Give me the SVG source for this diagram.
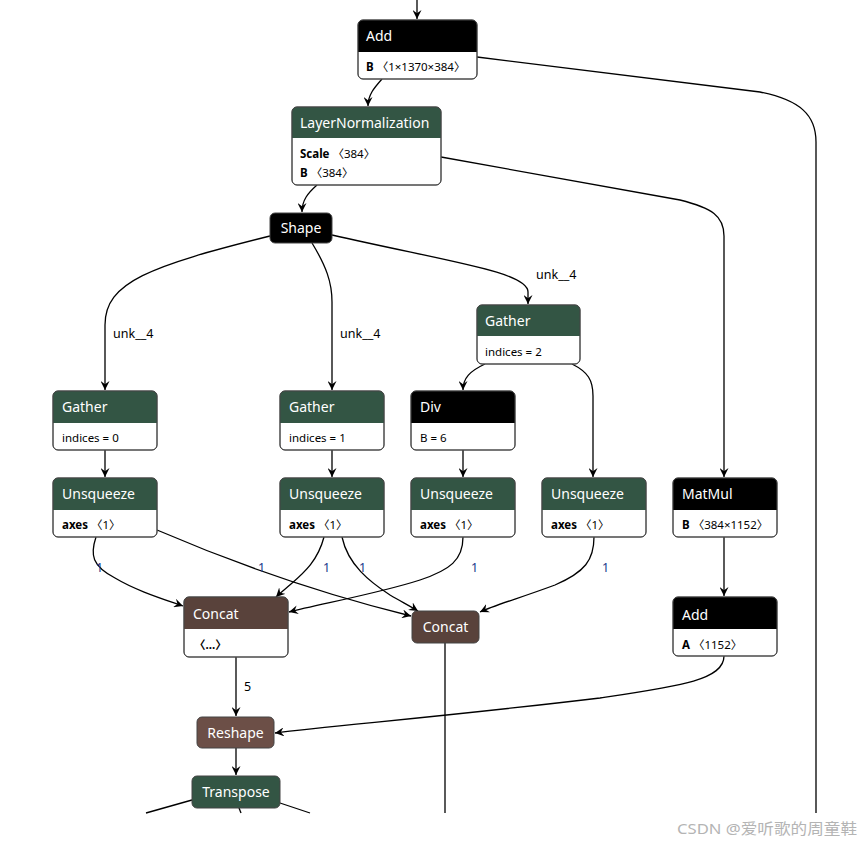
<svg xmlns="http://www.w3.org/2000/svg" width="862" height="844" viewBox="0 0 862 844">
<style>
.box{fill:#fff;stroke:#555;stroke-width:1}
.frame{fill:none;stroke:#444;stroke-width:1}
.hd{font-family:"Noto Sans","Open Sans","DejaVu Sans",sans-serif;font-size:14px;fill:#fff}
.bd{font-family:"Noto Sans","Noto Sans CJK SC",sans-serif;font-size:11.5px;fill:#000}
.bd .k{font-weight:bold}
.e{fill:none;stroke:#000;stroke-width:1.3}
.lbl{font-family:"Noto Sans","Open Sans",sans-serif;font-size:12.5px;fill:#000}
.lb1{font-family:"Noto Sans","Open Sans",sans-serif;font-size:12.5px;fill:#1a3a8a}
.green{fill:#335544}.black{fill:#000}.tensor{fill:#59423b}.shp{fill:#6c4f47}
</style>
<defs>
<marker id="arr" viewBox="0 0 10 10" refX="10" refY="5" markerWidth="9" markerHeight="9" markerUnits="userSpaceOnUse" orient="auto">
<path d="M0,0 L10,5 L0,10 L3.5,5 z" fill="#000"/>
</marker>
</defs>
<g id="connectors">
<path class="e" d="M417,0 L417,19" marker-end="url(#arr)"/>
<path class="e" d="M382,79 C374,88 368,95 368,106" marker-end="url(#arr)"/>
<path class="e" d="M477,57 L760,92 C800,100 816,115 816,142 L816,813"/>
<path class="e" d="M441,157 L680,200 C712,208 724,216 724,236 L724,477" marker-end="url(#arr)"/>
<path class="e" d="M317,185 C308,193 302,200 302,212" marker-end="url(#arr)"/>
<path class="e" d="M270,236 C150,266 105,282 105,325 L105,390" marker-end="url(#arr)"/>
<path class="e" d="M312,243 C326,266 332,282 332,302 L332,390" marker-end="url(#arr)"/>
<path class="e" d="M332,235 C450,262 528,272 528,292 L528,304" marker-end="url(#arr)"/>
<path class="e" d="M485,364 C470,371 463,378 463,390" marker-end="url(#arr)"/>
<path class="e" d="M572,364 C588,372 593,380 593,396 L593,477" marker-end="url(#arr)"/>
<path class="e" d="M105,450 L105,477" marker-end="url(#arr)"/>
<path class="e" d="M332,450 L332,477" marker-end="url(#arr)"/>
<path class="e" d="M463,450 L463,477" marker-end="url(#arr)"/>
<path class="e" d="M724,537 L724,596" marker-end="url(#arr)"/>
<path class="e" d="M96,537 C90,555 92,566 115,578 C135,590 160,598 183,606" marker-end="url(#arr)"/>
<path class="e" d="M157,530 C250,570 330,596 411,616" marker-end="url(#arr)"/>
<path class="e" d="M324,537 C318,560 305,572 291,584 C284,590 280,593 276,597" marker-end="url(#arr)"/>
<path class="e" d="M342,537 C348,565 370,582 390,595 C402,602 410,606 418,611" marker-end="url(#arr)"/>
<path class="e" d="M463,537 C463,560 450,570 420,580 C380,593 320,604 289,612" marker-end="url(#arr)"/>
<path class="e" d="M594,537 C594,560 585,572 555,585 C520,598 495,605 480,612" marker-end="url(#arr)"/>
<path class="e" d="M236,657 L236,716" marker-end="url(#arr)"/>
<path class="e" d="M724,656 C724,680 680,686 600,698 C450,716 330,726 275,733" marker-end="url(#arr)"/>
<path class="e" d="M445,643 L445,813"/>
<path class="e" d="M236,748 L236,775" marker-end="url(#arr)"/>
<path class="e" d="M192,800 L146,813"/>
<path class="e" d="M239,808 L241,813"/>
<path class="e" d="M280,803 L310,813"/>
<text class="lbl" x="113" y="338">unk__4</text>
<text class="lbl" x="340" y="338">unk__4</text>
<text class="lbl" x="536" y="279">unk__4</text>
<text class="lb1" x="96" y="572">1</text>
<text class="lb1" x="258" y="572">1</text>
<text class="lb1" x="323" y="572">1</text>
<text class="lb1" x="359" y="572">1</text>
<text class="lb1" x="471" y="572">1</text>
<text class="lb1" x="602" y="572">1</text>
<text class="lbl" x="244" y="691">5</text>
</g>
<g id="add1">
<rect class="box" x="358" y="20" width="119" height="59" rx="5"/>
<path class="black" d="M358,52 V25 a5,5 0 0 1 5,-5 H472 a5,5 0 0 1 5,5 V52 z"/>
<rect class="frame" x="358" y="20" width="119" height="59" rx="5"/>
<text class="hd" x="366" y="41">Add</text>
<text class="bd" x="366" y="71"><tspan class="k">B</tspan> 〈1×1370×384〉</text>
</g>
<g id="layernorm">
<rect class="box" x="292" y="107" width="149" height="78" rx="5"/>
<path class="green" d="M292,138 V112 a5,5 0 0 1 5,-5 H436 a5,5 0 0 1 5,5 V138 z"/>
<rect class="frame" x="292" y="107" width="149" height="78" rx="5"/>
<text class="hd" x="300" y="128">LayerNormalization</text>
<text class="bd" x="300" y="158"><tspan class="k">Scale</tspan> 〈384〉</text>
<text class="bd" x="300" y="177"><tspan class="k">B</tspan> 〈384〉</text>
</g>
<g id="shape">
<rect x="270" y="213" width="62" height="30" rx="5" fill="#000" stroke="#444"/>
<text class="hd" x="301" y="233" text-anchor="middle">Shape</text>
</g>
<g id="gather2">
<rect class="box" x="477" y="305" width="103" height="59" rx="5"/>
<path class="green" d="M477,336 V310 a5,5 0 0 1 5,-5 H575 a5,5 0 0 1 5,5 V336 z"/>
<rect class="frame" x="477" y="305" width="103" height="59" rx="5"/>
<text class="hd" x="485" y="326">Gather</text>
<text class="bd" x="485" y="356">indices = 2</text>
</g>
<g id="gather0">
<rect class="box" x="53" y="391" width="104" height="59" rx="5"/>
<path class="green" d="M53,423 V396 a5,5 0 0 1 5,-5 H152 a5,5 0 0 1 5,5 V423 z"/>
<rect class="frame" x="53" y="391" width="104" height="59" rx="5"/>
<text class="hd" x="62" y="412">Gather</text>
<text class="bd" x="62" y="442">indices = 0</text>
</g>
<g id="gather1">
<rect class="box" x="280" y="391" width="104" height="59" rx="5"/>
<path class="green" d="M280,423 V396 a5,5 0 0 1 5,-5 H379 a5,5 0 0 1 5,5 V423 z"/>
<rect class="frame" x="280" y="391" width="104" height="59" rx="5"/>
<text class="hd" x="289" y="412">Gather</text>
<text class="bd" x="289" y="442">indices = 1</text>
</g>
<g id="div">
<rect class="box" x="411" y="391" width="104" height="59" rx="5"/>
<path class="black" d="M411,423 V396 a5,5 0 0 1 5,-5 H510 a5,5 0 0 1 5,5 V423 z"/>
<rect class="frame" x="411" y="391" width="104" height="59" rx="5"/>
<text class="hd" x="420" y="412">Div</text>
<text class="bd" x="420" y="442">B = 6</text>
</g>
<g id="unsqueeze0">
<rect class="box" x="53" y="478" width="104" height="59" rx="5"/>
<path class="green" d="M53,510 V483 a5,5 0 0 1 5,-5 H152 a5,5 0 0 1 5,5 V510 z"/>
<rect class="frame" x="53" y="478" width="104" height="59" rx="5"/>
<text class="hd" x="62" y="499">Unsqueeze</text>
<text class="bd" x="62" y="529"><tspan class="k">axes</tspan> 〈1〉</text>
</g>
<g id="unsqueeze1">
<rect class="box" x="280" y="478" width="104" height="59" rx="5"/>
<path class="green" d="M280,510 V483 a5,5 0 0 1 5,-5 H379 a5,5 0 0 1 5,5 V510 z"/>
<rect class="frame" x="280" y="478" width="104" height="59" rx="5"/>
<text class="hd" x="289" y="499">Unsqueeze</text>
<text class="bd" x="289" y="529"><tspan class="k">axes</tspan> 〈1〉</text>
</g>
<g id="unsqueeze2">
<rect class="box" x="411" y="478" width="104" height="59" rx="5"/>
<path class="green" d="M411,510 V483 a5,5 0 0 1 5,-5 H510 a5,5 0 0 1 5,5 V510 z"/>
<rect class="frame" x="411" y="478" width="104" height="59" rx="5"/>
<text class="hd" x="420" y="499">Unsqueeze</text>
<text class="bd" x="420" y="529"><tspan class="k">axes</tspan> 〈1〉</text>
</g>
<g id="unsqueeze3">
<rect class="box" x="542" y="478" width="104" height="59" rx="5"/>
<path class="green" d="M542,510 V483 a5,5 0 0 1 5,-5 H641 a5,5 0 0 1 5,5 V510 z"/>
<rect class="frame" x="542" y="478" width="104" height="59" rx="5"/>
<text class="hd" x="551" y="499">Unsqueeze</text>
<text class="bd" x="551" y="529"><tspan class="k">axes</tspan> 〈1〉</text>
</g>
<g id="matmul">
<rect class="box" x="673" y="478" width="104" height="59" rx="5"/>
<path class="black" d="M673,510 V483 a5,5 0 0 1 5,-5 H772 a5,5 0 0 1 5,5 V510 z"/>
<rect class="frame" x="673" y="478" width="104" height="59" rx="5"/>
<text class="hd" x="682" y="499">MatMul</text>
<text class="bd" x="682" y="529"><tspan class="k">B</tspan> 〈384×1152〉</text>
</g>
<g id="add2">
<rect class="box" x="673" y="597" width="104" height="59" rx="5"/>
<path class="black" d="M673,629 V602 a5,5 0 0 1 5,-5 H772 a5,5 0 0 1 5,5 V629 z"/>
<rect class="frame" x="673" y="597" width="104" height="59" rx="5"/>
<text class="hd" x="682" y="620">Add</text>
<text class="bd" x="682" y="649"><tspan class="k">A</tspan> 〈1152〉</text>
</g>
<g id="concat1">
<rect class="box" x="184" y="597" width="104" height="60" rx="5"/>
<path class="tensor" d="M184,629 V602 a5,5 0 0 1 5,-5 H283 a5,5 0 0 1 5,5 V629 z"/>
<rect class="frame" x="184" y="597" width="104" height="60" rx="5"/>
<text class="hd" x="193" y="619">Concat</text>
<text class="bd" x="194" y="649"><tspan class="k">〈...〉</tspan></text>
</g>
<g id="concat2">
<rect x="412" y="611" width="67" height="32" rx="5" fill="#59423b" stroke="#444"/>
<text class="hd" x="445.5" y="632" text-anchor="middle">Concat</text>
</g>
<g id="reshape">
<rect x="197" y="717" width="77" height="31" rx="5" fill="#6c4f47" stroke="#444"/>
<text class="hd" x="235.5" y="738" text-anchor="middle">Reshape</text>
</g>
<g id="transpose">
<rect x="192" y="776" width="88" height="32" rx="5" fill="#335544" stroke="#444"/>
<text class="hd" x="236" y="797" text-anchor="middle">Transpose</text>
</g>
<text x="677" y="834" textLength="180" lengthAdjust="spacingAndGlyphs" font-family="Noto Sans,Noto Sans CJK SC,sans-serif" font-size="15" fill="#b4b4b4">CSDN @爱听歌的周童鞋</text>
</svg>
